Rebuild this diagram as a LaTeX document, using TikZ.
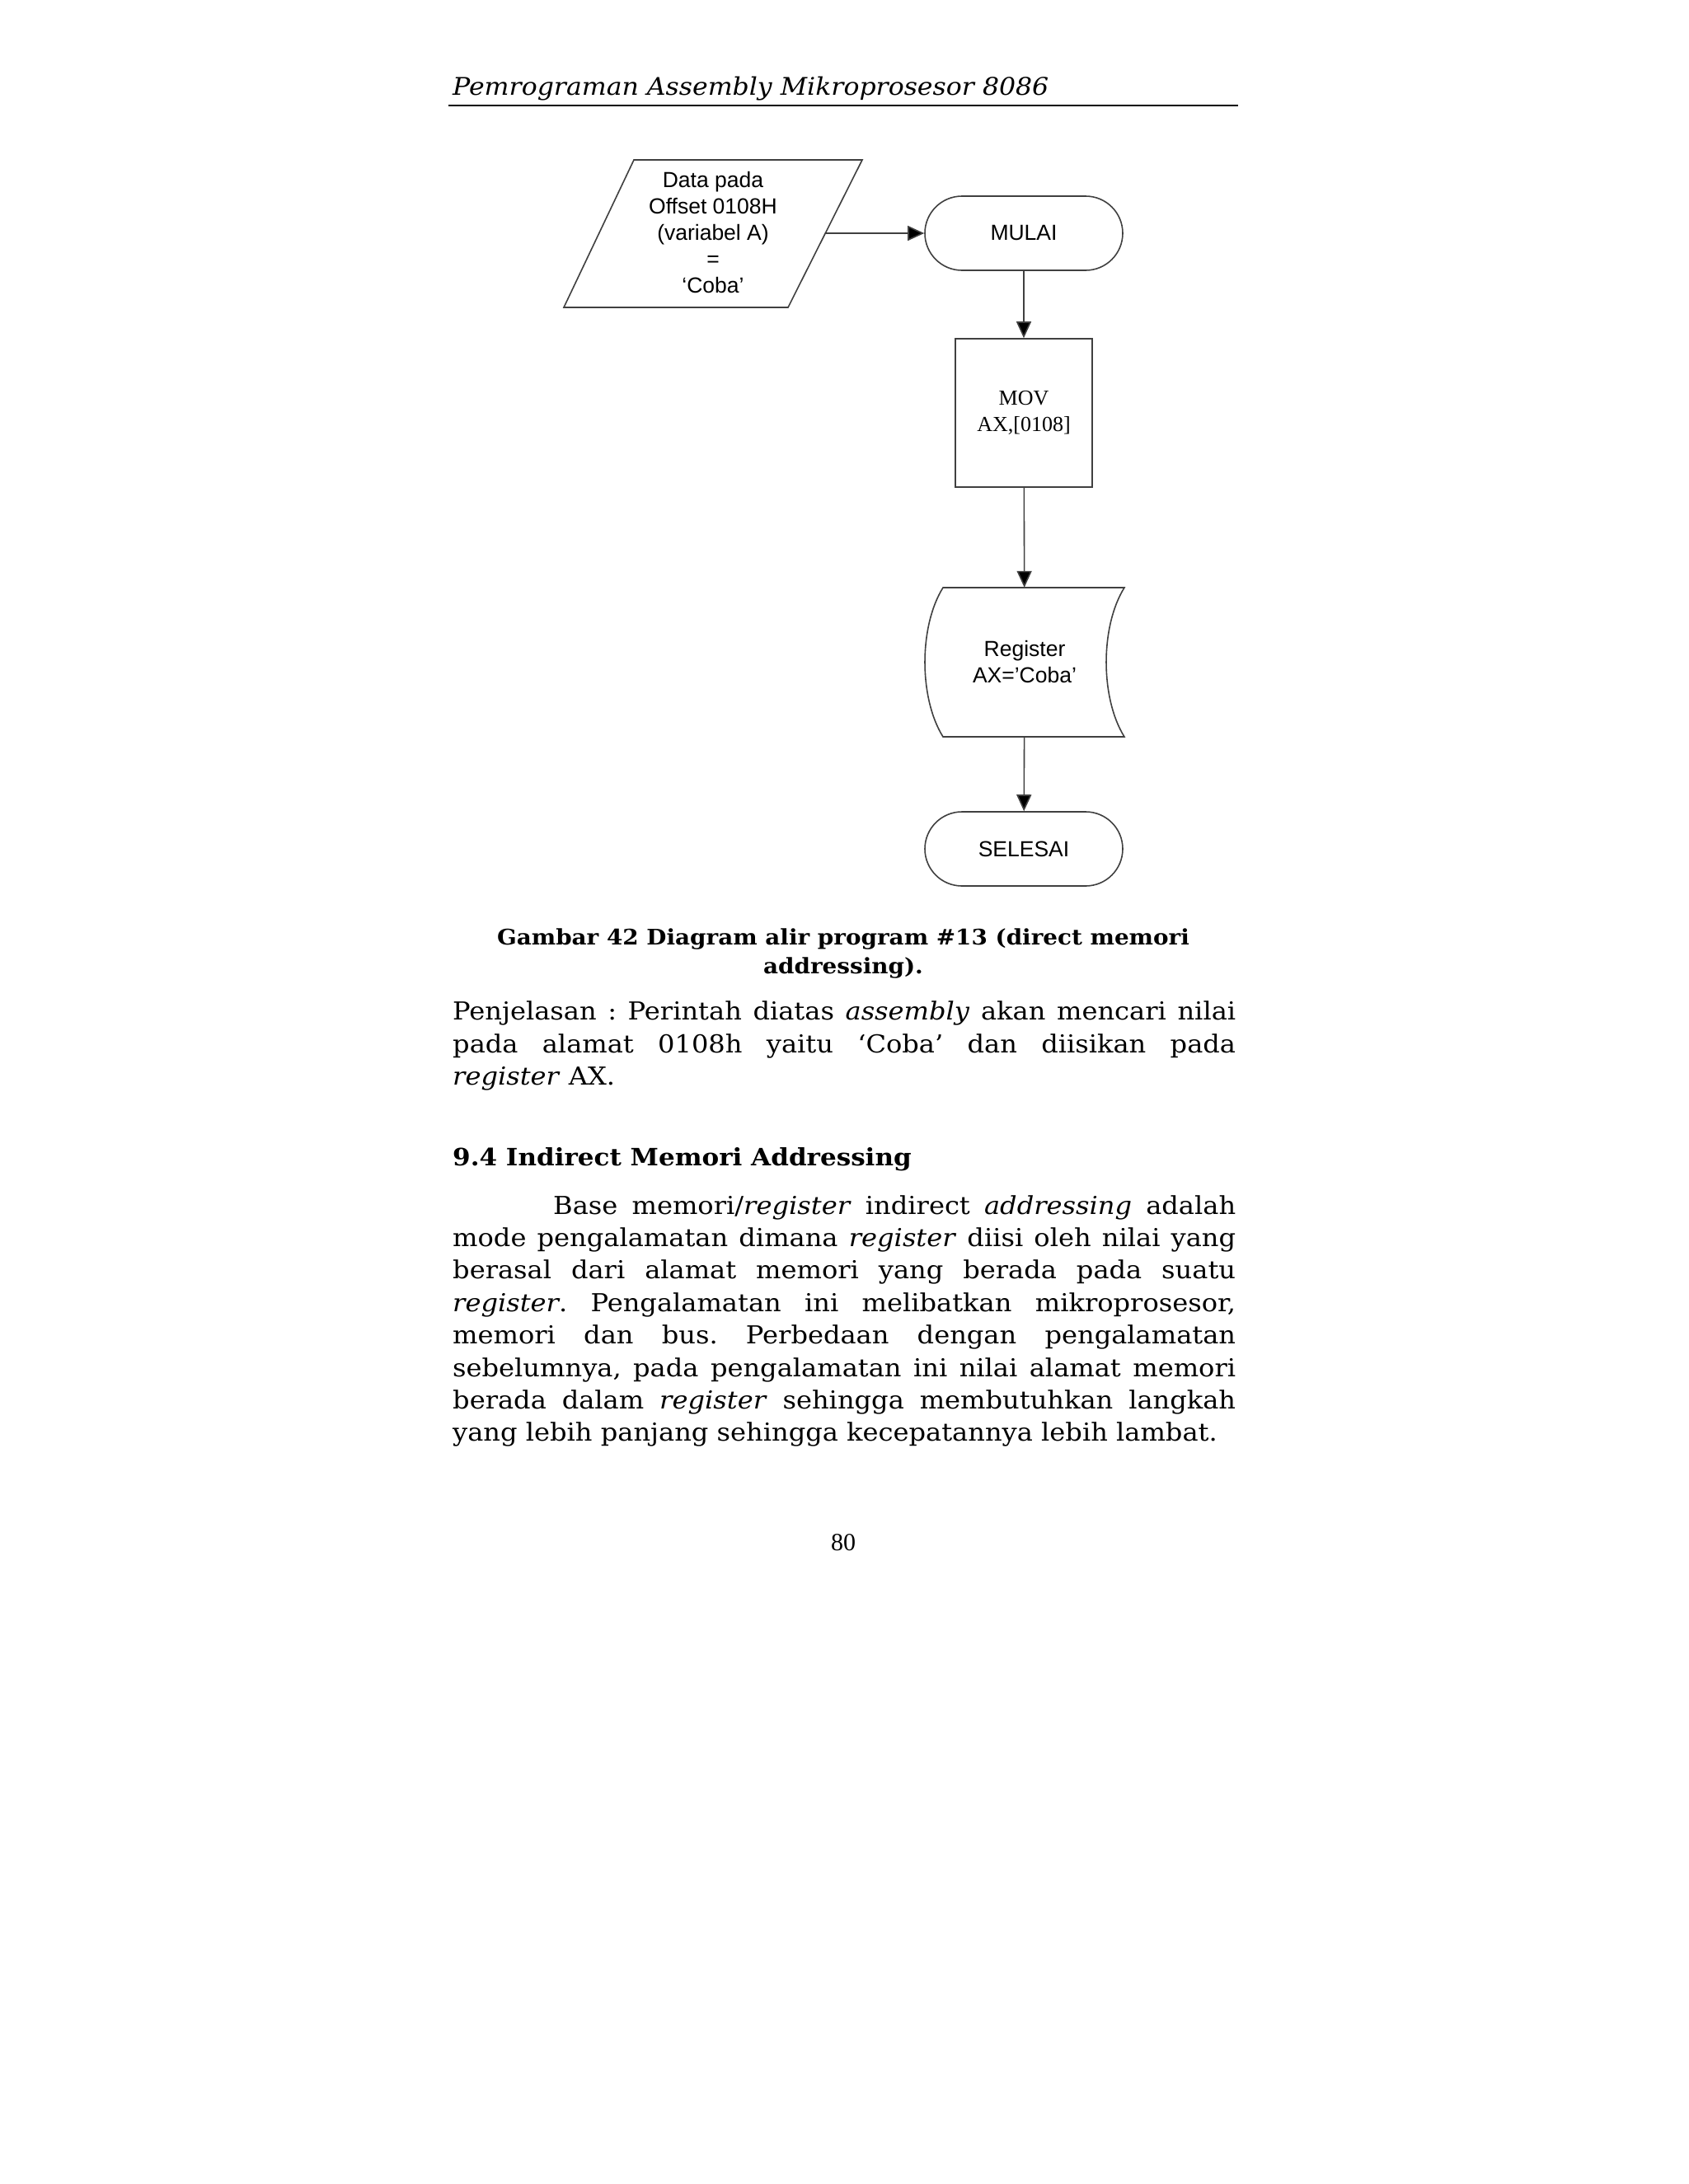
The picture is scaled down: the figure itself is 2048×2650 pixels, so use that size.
\documentclass[tikz,border=0pt]{standalone}
\usepackage{fontspec}
\setmainfont{DejaVu Serif}
\newfontfamily\bodyf[FakeStretch=1.07]{DejaVu Serif}
\newfontfamily\arialf{Liberation Sans}
\newfontfamily\timesf{Liberation Serif}
\usetikzlibrary{arrows.meta,shapes.misc}
\hbadness=10000
\hfuzz=50pt
\frenchspacing
\newcommand{\jline}[1]{\hbox to 950pt{#1}}
\begin{document}
\begin{tikzpicture}[x=1pt,y=-1pt,
  shapeline/.style={draw=black!75, line width=1.6pt},
  conn/.style={draw=black!75, line width=1.6pt, -{Triangle[length=20pt,width=18pt,fill=black]}},
  term/.style={shapeline, rounded rectangle, minimum width=240pt, minimum height=90pt, inner sep=0pt, font=\arialf\fontsize{26.5}{32}\selectfont},
  proc/.style={shapeline, rectangle, minimum width=166pt, minimum height=180pt, inner sep=0pt, align=center, font=\timesf\fontsize{26}{32}\selectfont},
  sanstext/.style={inner sep=0pt, align=center, font=\arialf\fontsize{26.5}{32}\selectfont},
  bodytext/.style={anchor=base west, inner sep=0pt, font=\bodyf\fontsize{30}{39}\selectfont},
  captext/.style={anchor=base, inner sep=0pt, font=\bodyf\bfseries\fontsize{26}{35}\selectfont},
  headtext/.style={anchor=base west, inner sep=0pt, font=\bodyf\bfseries\fontsize{29}{39}\selectfont}
]
\useasboundingbox[fill=white] (0,0) rectangle (2048,2650);

% running header
\node[anchor=base west, inner sep=0pt, font=\bodyf\itshape\fontsize{29.5}{36}\selectfont] (hdr) at (549,115) {Pemrograman Assembly Mikroprosesor 8086};
\coordinate (ruleL) at (544,128);
\coordinate (ruleR) at (1502,128);
\draw[line width=2.5pt] (ruleL) -- (ruleR);

% input parallelogram
\coordinate (dTL) at (769,194);
\coordinate (dTR) at (1046,194);
\coordinate (dBR) at (956,373);
\coordinate (dBL) at (684,373);
\draw[shapeline] (dTL) -- (dTR) -- (dBR) -- (dBL) -- cycle;
\node[sanstext] (data) at (865,282) {Data pada\\Offset 0108H\\(variabel A)\\=\\‘Coba’};
\coordinate (dataR) at (1001,283);

% terminals and process
\node[term] (mulai) at (1242,283) {MULAI};
\node[proc] (mov) at (1242,501) {MOV\\AX,[0108]};

% stored data shape
\node[minimum width=242pt, minimum height=181pt, inner sep=0pt, align=center, font=\arialf\fontsize{26.5}{32}\selectfont] (reg) at (1243,803.5) {Register\\AX=’Coba’};
\draw[shapeline] (1144,713) -- (1364,713)
  .. controls (1334.7,760) and (1334.7,847) .. (1364,894)
  -- (1144,894)
  .. controls (1114.7,847) and (1114.7,760) .. (1144,713) -- cycle;

\node[term] (selesai) at (1242,1030) {SELESAI};

% connectors
\draw[conn] (dataR) -- (mulai.west);
\draw[conn] (mulai) -- (mov);
\draw[conn] (mov) -- (reg);
\draw[conn] (reg) -- (selesai);

% caption
\node[captext] (cap1) at (1023,1146) {Gambar 42 Diagram alir program \#13 (direct memori};
\node[captext] (cap2) at (1023,1181) {addressing).};

% explanation
\node[bodytext] (p1) at (549,1237) {\jline{Penjelasan : Perintah diatas \textit{assembly} akan mencari nilai}};
\node[bodytext] (p2) at (549,1277) {\jline{pada alamat 0108h yaitu ‘Coba’ dan diisikan pada}};
\node[bodytext] (p3) at (549,1316) {\textit{register} AX.};

% section heading
\node[headtext] (sec) at (549,1414) {9.4 Indirect Memori Addressing};

% paragraph
\node[bodytext] (q1) at (671,1473) {\hbox to 828pt{Base memori/\textit{register} indirect \textit{addressing} adalah}};
\node[bodytext] (q2) at (549,1512.4) {\jline{mode pengalamatan dimana \textit{register} diisi oleh nilai yang}};
\node[bodytext] (q3) at (549,1551.8) {\jline{berasal dari alamat memori yang berada pada suatu}};
\node[bodytext] (q4) at (549,1591.2) {\jline{\textit{register}. Pengalamatan ini melibatkan mikroprosesor,}};
\node[bodytext] (q5) at (549,1630.6) {\jline{memori dan bus. Perbedaan dengan pengalamatan}};
\node[bodytext] (q6) at (549,1670) {\jline{sebelumnya, pada pengalamatan ini nilai alamat memori}};
\node[bodytext] (q7) at (549,1709.4) {\jline{berada dalam \textit{register} sehingga membutuhkan langkah}};
\node[bodytext] (q8) at (549,1748.8) {yang lebih panjang sehingga kecepatannya lebih lambat.};

% page number
\node[anchor=base, inner sep=0pt, font=\timesf\fontsize{30}{36}\selectfont] (pg) at (1023,1881) {80};
\end{tikzpicture}
\end{document}
